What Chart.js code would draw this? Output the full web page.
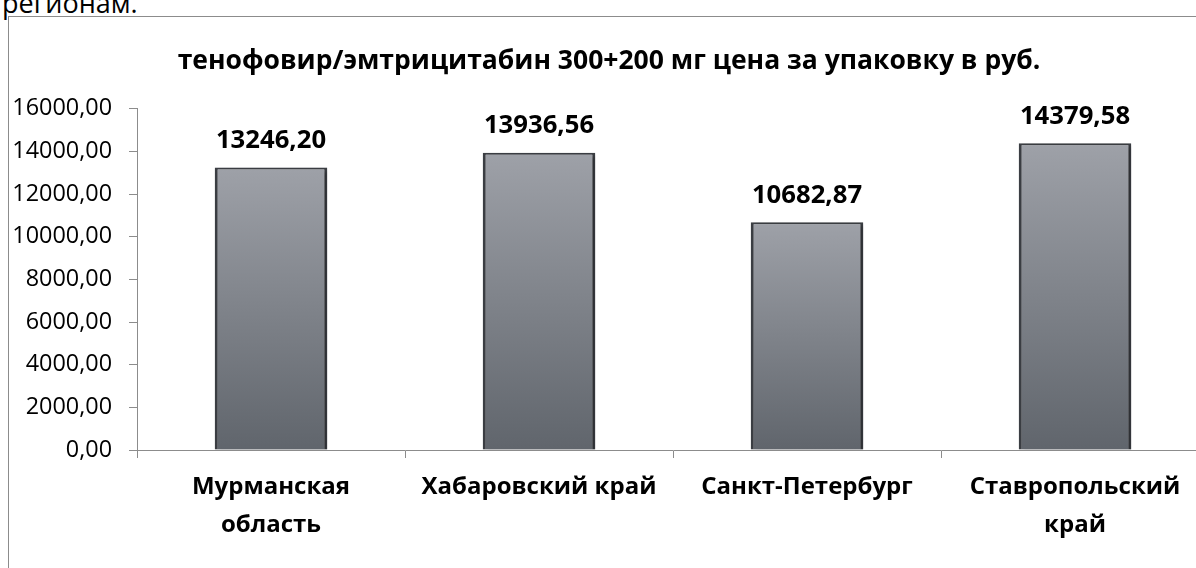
<!DOCTYPE html>
<html>
<head>
<meta charset="utf-8">
<script src="https://cdn.jsdelivr.net/npm/chart.js@4"></script>
<style>
    html, body { margin: 0; padding: 0; background: #fff; overflow: hidden; }
    body { width: 1196px; height: 568px; position: relative; }
    #above { position: absolute; left: 2px; top: -16px; font-family: "Open Sans", sans-serif; font-size: 27px; color: #000; white-space: nowrap; }
    #frame { position: absolute; left: 8px; top: 16px; width: 1215px; height: 570px; border-left: 1px solid #8c8c8c; border-top: 1px solid #8c8c8c; background: #fff; }
    #wrap { position: relative; width: 1215px; height: 570px; }
</style>
</head>
<body>
<div id="above">регионам.</div>
<div id="frame"><div id="wrap"><canvas id="chart"></canvas></div></div>
<script>
const regions = [['Мурманская', 'область'], 'Хабаровский край', 'Санкт-Петербург', ['Ставропольский', 'край']];
const prices = [13246.20, 13936.56, 10682.87, 14379.58];
const yMin = 0, yMax = 16000, yStep = 2000;
const chartTitle = 'тенофовир/эмтрицитабин 300+200 мг цена за упаковку в руб.';

const FONT = '"Open Sans", sans-serif';
const fmt = v => v.toFixed(2).replace('.', ',');

// per-bar vertical gradient, light on top, dark at the base
function barFill(c) {
    const chart = c.chart;
    const area = chart.chartArea;
    if (!area || c.raw == null) return '#80848b';
    const top = chart.scales.y.getPixelForValue(c.raw);
    const g = chart.ctx.createLinearGradient(0, top, 0, area.bottom);
    g.addColorStop(0, '#9ea1a8');
    g.addColorStop(1, '#60656c');
    return g;
}

const barShadow = {
    id: 'barShadow',
    beforeDatasetsDraw(chart) {
        const ctx = chart.ctx;
        ctx.save();
        ctx.shadowColor = 'rgba(0,0,0,0.35)';
        ctx.shadowBlur = 4;
        ctx.shadowOffsetX = 2;
        ctx.shadowOffsetY = 2;
    },
    afterDatasetsDraw(chart) {
        chart.ctx.restore();
    }
};

const valueLabels = {
    id: 'valueLabels',
    afterDatasetsDraw(chart) {
        const ctx = chart.ctx;
        const meta = chart.getDatasetMeta(0);
        ctx.save();
        ctx.font = 'bold 25.7px ' + FONT;
        ctx.fillStyle = '#000';
        ctx.textAlign = 'center';
        ctx.textBaseline = 'middle';
        meta.data.forEach((bar, i) => {
            ctx.fillText(fmt(prices[i]), bar.x, bar.y - 27);
        });
        ctx.restore();
    }
};

new Chart(document.getElementById('chart'), {
    type: 'bar',
    data: {
        labels: regions,
        datasets: [{
            data: prices,
            backgroundColor: barFill,
            borderColor: '#3b3e43',
            borderWidth: { top: 2, left: 3, right: 3, bottom: 0 },
            borderSkipped: false,
            barPercentage: 0.42,
            categoryPercentage: 1
        }]
    },
    options: {
        responsive: true,
        maintainAspectRatio: false,
        animation: false,
        layout: { padding: { left: 0, right: 15, top: 0, bottom: 0 } },
        plugins: {
            legend: { display: false },
            tooltip: { enabled: false },
            title: {
                display: true,
                text: chartTitle,
                color: '#000',
                font: { family: FONT, size: 26.5, weight: 'bold', lineHeight: 1.2 },
                padding: { top: 29, bottom: 31 }
            }
        },
        scales: {
            x: {
                grid: { display: true, drawOnChartArea: false, drawTicks: true, tickLength: 8, color: '#8c8c8c', offset: true },
                border: { display: true, color: '#8c8c8c', width: 1 },
                ticks: {
                    color: '#000',
                    font: { family: FONT, size: 24, weight: 'bold', lineHeight: 1.58 },
                    padding: 10,
                    maxRotation: 0,
                    autoSkip: false
                },
                afterFit: s => { s.height = 137; }
            },
            y: {
                min: yMin,
                max: yMax,
                grid: { display: true, drawOnChartArea: false, drawTicks: true, tickLength: 8, color: '#8c8c8c' },
                border: { display: true, color: '#8c8c8c', width: 1 },
                ticks: {
                    stepSize: yStep,
                    color: '#000',
                    font: { family: FONT, size: 23.4 },
                    padding: 17,
                    callback: v => fmt(v)
                },
                afterFit: s => { s.width = 128; }
            }
        }
    },
    plugins: [barShadow, valueLabels]
});
</script>
</body>
</html>
